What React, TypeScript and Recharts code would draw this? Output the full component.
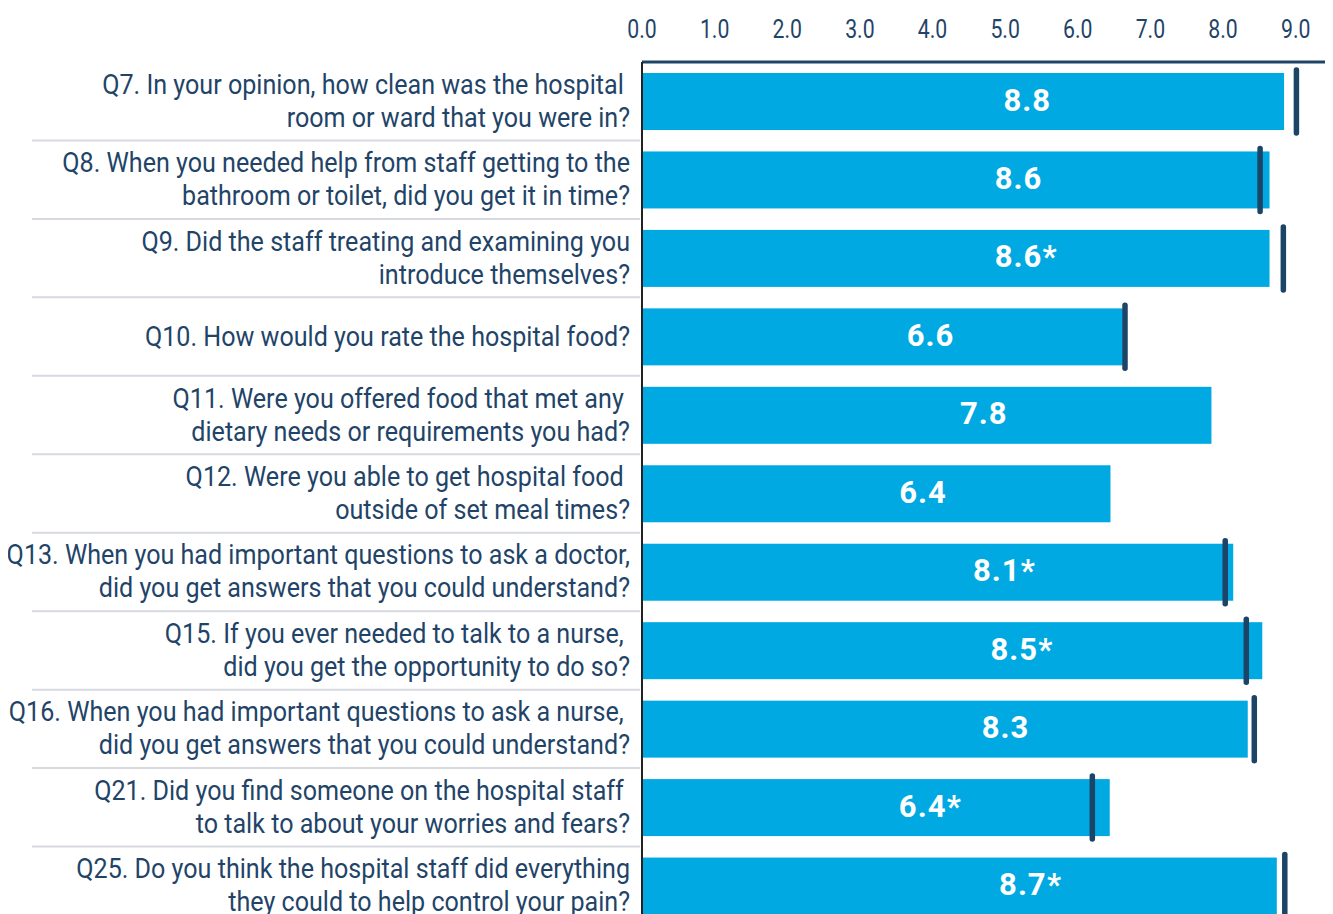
import React from 'react';
import { BarChart, Bar, XAxis, YAxis } from 'recharts';

const questionIds = ['Q7', 'Q8', 'Q9', 'Q10', 'Q11', 'Q12', 'Q13', 'Q15', 'Q16', 'Q21', 'Q25'];

const questionLabels = [
  'Q7. In your opinion, how clean was the hospital \nroom or ward that you were in?',
  'Q8. When you needed help from staff getting to the\nbathroom or toilet, did you get it in time?',
  'Q9. Did the staff treating and examining you\nintroduce themselves?',
  'Q10. How would you rate the hospital food?',
  'Q11. Were you offered food that met any \ndietary needs or requirements you had?',
  'Q12. Were you able to get hospital food \noutside of set meal times?',
  'Q13. When you had important questions to ask a doctor,\ndid you get answers that you could understand?',
  'Q15. If you ever needed to talk to a nurse, \ndid you get the opportunity to do so?',
  'Q16. When you had important questions to ask a nurse, \ndid you get answers that you could understand?',
  'Q21. Did you find someone on the hospital staff \nto talk to about your worries and fears?',
  'Q25. Do you think the hospital staff did everything\nthey could to help control your pain?',
];

const scores = [8.84, 8.64, 8.64, 6.62, 7.84, 6.45, 8.14, 8.54, 8.34, 6.44, 8.74];
const scoreLabels = ['8.8', '8.6', '8.6*', '6.6', '7.8', '6.4', '8.1*', '8.5*', '8.3', '6.4*', '8.7*'];
const benchmarks: (number | null)[] = [9.01, 8.51, 8.83, 6.65, null, null, 8.03, 8.32, 8.43, 6.2, 8.85];

const xTicks = [0, 1, 2, 3, 4, 5, 6, 7, 8, 9];
const xDomain = [0, 9.5];

const rows = questionIds.map((id, i) => ({
  id,
  score: scores[i],
  label: scoreLabels[i],
  bench: benchmarks[i],
}));

const CHART_W = 1330;
const CHART_H = 917;
const X_AXIS_H = 54;
const Y_AXIS_W = 634;
const BAND = (CHART_H - X_AXIS_H) / questionIds.length;
const LINE_H = 33;
const TICK_SCALE = 0.85;
const LABEL_SCALE = 0.93;

const TEXT = '#1f4468';
const BAR = '#00a9e2';
const MARK = '#1b4466';
const SEP = '#d6d9df';
const FONT = 'Roboto, "Noto Sans", sans-serif';

const XTick = (props: any) => {
  const { x, y, payload } = props;
  return (
    <g transform={`translate(${x},${y}) scale(${TICK_SCALE},1)`}>
      <text x={0} y={-24} textAnchor="middle" fontFamily={FONT} fontSize={25} fill={TEXT}>
        {Number(payload.value).toFixed(1)}
      </text>
    </g>
  );
};

const CategoryTick = (props: any) => {
  const { x, y, payload } = props;
  const i = questionIds.indexOf(payload.value);
  const lines = questionLabels[i].split('\n');
  const n = lines.length;
  const first = -((n - 1) * LINE_H) / 2 + 9;
  return (
    <g>
      {i > 0 && (
        <line x1={24} x2={x - 2} y1={y - BAND / 2} y2={y - BAND / 2} stroke={SEP} strokeWidth={2} />
      )}
      <g transform={`translate(${x - 12},${y}) scale(${LABEL_SCALE},1)`}>
        <text textAnchor="end" fontFamily={FONT} fontSize={27} fill={TEXT} style={{ whiteSpace: 'pre' }}>
          {lines.map((l, k) => (
            <tspan key={k} x={0} y={first + k * LINE_H}>
              {l}
            </tspan>
          ))}
        </text>
      </g>
    </g>
  );
};

const BarShape = (props: any) => {
  const { x, y, width, height, payload } = props;
  const pxPerUnit = width / payload.score;
  const cx = x + width * 0.6;
  const lbl: string = payload.label;
  const star = lbl.endsWith('*');
  const num = star ? lbl.slice(0, -1) : lbl;
  const cy = y + height / 2 + 9;
  return (
    <g>
      <rect x={x} y={y} width={width} height={height} fill={BAR} />
      <text
        x={cx}
        y={cy}
        textAnchor="middle"
        fontFamily={FONT}
        fontWeight={700}
        fontSize={31}
        letterSpacing={1}
        fill="#ffffff"
      >
        {num}
      </text>
      {star && (
        <text x={cx + 24} y={cy} textAnchor="start" fontFamily={FONT} fontWeight={700} fontSize={31} fill="#ffffff">
          *
        </text>
      )}
      {payload.bench != null && (
        <line
          x1={x + payload.bench * pxPerUnit}
          x2={x + payload.bench * pxPerUnit}
          y1={y - 3}
          y2={y + height + 3}
          stroke={MARK}
          strokeWidth={5.5}
          strokeLinecap="round"
        />
      )}
    </g>
  );
};

export default function App() {
  return (
    <div style={{ width: CHART_W, height: CHART_H }}>
      <style>{'html,body{overflow:hidden}'}</style>
      <BarChart
        layout="vertical"
        width={CHART_W}
        height={CHART_H}
        data={rows}
        margin={{ top: 0, right: 6, bottom: 0, left: 0 }}
        barSize={57}
      >
        <XAxis
          type="number"
          orientation="top"
          domain={xDomain}
          ticks={xTicks}
          height={X_AXIS_H}
          tickSize={0}
          tickMargin={0}
          tickLine={false}
          axisLine={{ stroke: TEXT, strokeWidth: 3 }}
          tick={<XTick />}
          allowDataOverflow
        />
        <YAxis
          type="category"
          dataKey="id"
          width={Y_AXIS_W}
          tickSize={0}
          tickMargin={0}
          tickLine={false}
          interval={0}
          axisLine={{ stroke: '#222222', strokeWidth: 2 }}
          tick={<CategoryTick />}
        />
        <Bar dataKey="score" isAnimationActive={false} shape={<BarShape />} />
      </BarChart>
    </div>
  );
}
